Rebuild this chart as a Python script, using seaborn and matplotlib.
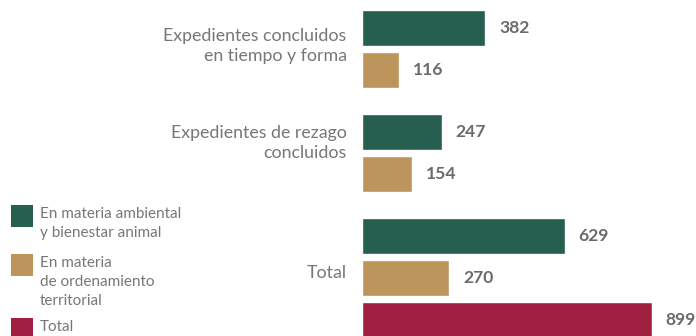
import matplotlib
matplotlib.use("Agg")
import matplotlib.pyplot as plt
from matplotlib.patches import Rectangle
import pandas as pd
import seaborn as sns

# Categories, series and values
groups = ["Expedientes concluidos\nen tiempo y forma",
          "Expedientes de rezago\nconcluidos",
          "Total"]
series = ["En materia ambiental\ny bienestar animal",
          "En materia\nde ordenamiento\nterritorial",
          "Total"]
ambiental = [382, 247, 629]
ordenamiento = [116, 154, 270]
total = [None, None, 899]
colors = ["#265E50", "#BB955C", "#A02042"]

W, H, DPI = 696, 336, 100
FONT = "Lato"
GREY = "#777777"

sns.set_theme(style="white")
plt.rcParams["font.family"] = [FONT, "DejaVu Sans"]

# one row per bar; bars stack downward within a group, with extra space between groups
group_gap = 20 / 42
rows = []
group_centers = []
start = 0.667
for g, name in enumerate(groups):
    vals = [ambiental[g], ordenamiento[g], total[g]]
    present = [(s, v) for s, v in zip(series, vals) if v is not None]
    for i, (s, v) in enumerate(present):
        rows.append({"grupo": name, "serie": s, "valor": v, "pos": start + i})
    group_centers.append(start + (len(present) - 1) / 2)
    start += len(present) + group_gap
df = pd.DataFrame(rows)

fig = plt.figure(figsize=(W / DPI, H / DPI), dpi=DPI)
ax = fig.add_axes([362 / W, 0, (W - 362) / W, 1])

sns.barplot(data=df, x="valor", y="pos", hue="serie", hue_order=series,
            palette=colors, orient="h", native_scale=True, dodge=False,
            width=36 / 42, legend=False, saturation=1, ax=ax)

ax.set_xlim(0, (W - 362) / 0.3225)
ax.set_ylim(8, 0)

for cont in ax.containers:
    ax.bar_label(cont, fmt="{:.0f}", padding=10, fontsize=12.6,
                 fontweight="bold", color="#6b6b6b", family=[FONT, "DejaVu Sans"])

# group labels sit a little above the middle of their bars (shift in row units)
label_shift = [0.15, 0.31, 0.15]
ax.set_yticks([c - s for c, s in zip(group_centers, label_shift)])
ax.set_yticklabels(groups, fontsize=12.8, color=GREY, linespacing=1.3)
ax.tick_params(axis="y", length=0, pad=11)
ax.set_xticks([])
ax.set_xlabel("")
ax.set_ylabel("")
for sp in ax.spines.values():
    sp.set_visible(False)

# legend: colour square with the label beside it, top-aligned
legend_tops = [205, 254, 318]
text_tops = [207, 256, 320]
for s, c, top, ttop in zip(series, colors, legend_tops, text_tops):
    fig.add_artist(Rectangle((11 / W, 1 - (top + 22) / H), 22 / W, 22 / H,
                             transform=fig.transFigure, color=c, lw=0))
    fig.text(40 / W, 1 - ttop / H, s, fontsize=11, color=GREY,
             va="top", ha="left", linespacing=1.45)

fig.savefig("out.png", dpi=DPI, facecolor="white")
